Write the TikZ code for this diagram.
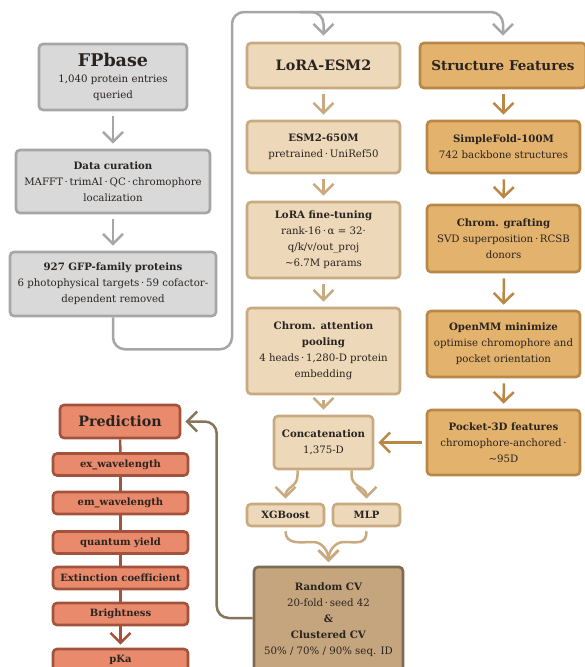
\documentclass[tikz,border=0pt]{standalone}
\usepackage{fontspec}
\setmainfont{DejaVu Serif}
\usetikzlibrary{arrows.meta}
\definecolor{txt}{HTML}{2A2420}
\definecolor{grayF}{HTML}{D9D9D9}
\definecolor{grayD}{HTML}{A6A6A6}
\definecolor{loraF}{HTML}{EDD8B9}
\definecolor{loraD}{HTML}{C9AA80}
\definecolor{strF}{HTML}{E3B26C}
\definecolor{strD}{HTML}{B98846}
\definecolor{cvF}{HTML}{C4A57E}
\definecolor{cvD}{HTML}{7D6A53}
\definecolor{predF}{HTML}{EA8A6C}
\definecolor{predD}{HTML}{A3533C}
\definecolor{predArr}{HTML}{86745B}
\begin{document}
\begin{tikzpicture}[x=1pt,y=-1pt,
  base/.style={rounded corners=4pt, line width=2.6pt, align=center, inner sep=2pt, text=txt,
    font=\fontsize{10.2}{16}\selectfont},
  graybox/.style={base, fill=grayF, draw=grayD},
  lorabox/.style={base, fill=loraF, draw=loraD},
  strbox/.style={base, fill=strF, draw=strD},
  cvbox/.style={base, fill=cvF, draw=cvD},
  predbox/.style={base, fill=predF, draw=predD, minimum width=135pt, minimum height=22pt,
    font=\fontsize{10}{12}\selectfont\bfseries},
  tip/.style={-{Straight Barb[length=10pt,width=20pt]}, line width=2.5pt},
  grayarr/.style={tip, draw=grayD},
  loraarr/.style={tip, draw=loraD},
  strarr/.style={tip, draw=strD},
  predln/.style={line width=2.5pt, draw=predD}
]
\useasboundingbox (0,0) rectangle (584,667);

% left column
\node[graybox, minimum width=148pt, minimum height=66pt] (fp) at (113,77)
  {{\fontsize{17.5}{24}\selectfont\bfseries FPbase}\\1,040 protein entries\\queried};
\node[graybox, minimum width=194pt, minimum height=63pt] (cur) at (113,181.5)
  {\textbf{Data curation}\\MAFFT\,·\,trimAI\,·\,QC\,·\,chromophore\\localization};
\node[graybox, minimum width=206pt, minimum height=64pt] (gfp) at (113,284)
  {\textbf{927 GFP-family proteins}\\6 photophysical targets\,·\,59 cofactor-\\dependent removed};

% LoRA column
\node[lorabox, minimum width=153pt, minimum height=45pt, font=\fontsize{14.3}{18}\selectfont\bfseries] (lora) at (323.5,65.5) {LoRA-ESM2};
\node[lorabox, minimum width=153pt, minimum height=52pt] (esm) at (323.5,147)
  {\textbf{ESM2-650M}\\pretrained\,·\,UniRef50};
\node[lorabox, minimum width=153pt, minimum height=76pt] (ft) at (323.5,240)
  {\textbf{LoRA fine-tuning}\\rank-16\,·\,α = 32·\\q/k/v/out\_proj\\\textasciitilde6.7M params};
\node[lorabox, minimum width=153pt, minimum height=86pt] (pool) at (323.5,351)
  {\textbf{Chrom. attention}\\\textbf{pooling}\\4 heads\,·\,1,280-D protein\\embedding};
\node[lorabox, minimum width=99pt, minimum height=53pt] (cat) at (323.5,442.5)
  {\textbf{Concatenation}\\1,375-D};
\node[lorabox, minimum width=77pt, minimum height=22pt, font=\fontsize{10}{12}\selectfont\bfseries] (xgb) at (285.5,515) {XGBoost};
\node[lorabox, minimum width=67pt, minimum height=22pt, font=\fontsize{10}{12}\selectfont\bfseries] (mlp) at (366.5,515) {MLP};
\node[cvbox, minimum width=149pt, minimum height=106pt] (cv) at (328.5,620)
  {\textbf{Random CV}\\20-fold\,·\,seed 42\\\textbf{\&}\\\textbf{Clustered CV}\\50\% / 70\% / 90\% seq. ID};

% Structure column
\node[strbox, minimum width=166pt, minimum height=45pt, font=\fontsize{13.5}{18}\selectfont\bfseries] (sf) at (503,65.5) {Structure Features};
\node[strbox, minimum width=153pt, minimum height=52pt] (fold) at (503.5,147)
  {\textbf{SimpleFold-100M}\\742 backbone structures};
\node[strbox, minimum width=153pt, minimum height=67pt] (graft) at (503.5,238.5)
  {\textbf{Chrom. grafting}\\SVD superposition\,·\,RCSB\\donors};
\node[strbox, minimum width=153pt, minimum height=66pt] (omm) at (503.5,344)
  {\textbf{OpenMM minimize}\\optimise chromophore and\\pocket orientation};
\node[strbox, minimum width=153pt, minimum height=65pt] (pocket) at (503.5,442.5)
  {\textbf{Pocket-3D features}\\chromophore-anchored\,·\\\textasciitilde95D};

% Prediction column
\node[predbox, minimum width=120pt, minimum height=33pt, font=\fontsize{14.3}{18}\selectfont\bfseries] (pred) at (120,421.5) {Prediction};
\node[predbox] (ex) at (120.5,464.5) {ex\_wavelength};
\node[predbox] (em) at (120.5,503) {em\_wavelength};
\node[predbox] (qy) at (120.5,542.5) {quantum yield};
\node[predbox] (ext) at (120.5,578) {Extinction coefficient};
\node[predbox] (br) at (120.5,614) {Brightness};
\node[predbox] (pka) at (120.5,660) {pKa};

% gray connectors
\draw[grayarr, shorten <=5pt, shorten >=5pt] (fp) -- (cur);
\draw[grayarr, shorten <=5pt, shorten >=5pt] (cur) -- (gfp);
\draw[grayarr, rounded corners=12pt] (gfp.south) -- ++(0,32) -| (232,12) -| ([yshift=6pt]lora.north);
\coordinate (topmid) at (300,12);
\draw[grayarr, rounded corners=12pt] (topmid) -| ([yshift=6pt]sf.north);

% LoRA connectors
\foreach \a/\b in {lora/esm, esm/ft, ft/pool, pool/cat}
  \draw[loraarr, shorten <=5pt, shorten >=5pt] (\a.south) -- (\b.north);
\draw[loraarr] ([xshift=-26pt]cat.south) -- ++(0,5) .. controls +(0,12) and +(0,-12) .. ([yshift=4pt]xgb.north);
\draw[loraarr] ([xshift=28pt]cat.south) -- ++(0,5) .. controls +(0,12) and +(0,-12) .. ([yshift=4pt]mlp.north);
\coordinate (ml) at (313,542);
\coordinate (mr) at (344,542);
\coordinate (mg) at (328.5,562);
\draw[loraarr] ([yshift=-4pt]xgb.south) .. controls +(0,14) and +(-12,0) .. (ml) .. controls +(10,0) and +(0,-10) .. (mg);
\draw[loraarr] ([yshift=-4pt]mlp.south) .. controls +(0,14) and +(12,0) .. (mr) .. controls +(-10,0) and +(0,-10) .. (mg);

% Structure connectors
\foreach \a/\b in {sf/fold, fold/graft, graft/omm, omm/pocket}
  \draw[strarr, shorten <=5pt, shorten >=5pt] ([xshift=0.5pt]\a.south) -- (\b.north);
\draw[strarr, shorten <=4pt, shorten >=4pt] (pocket.west) -- (cat.east);

% Prediction connectors
\foreach \a/\b in {pred/ex, ex/em, em/qy, qy/ext, ext/br}
  \draw[predln] (\a.south) -- (\b.north);
\draw[predln, tip, draw=predD, shorten >=3pt] (br.south) -- (pka.north);
\draw[tip, draw=predArr, rounded corners=12pt, shorten >=4pt] ([yshift=2pt]cv.west) -- ++(-36,0) |- (pred.east);
\end{tikzpicture}
\end{document}
